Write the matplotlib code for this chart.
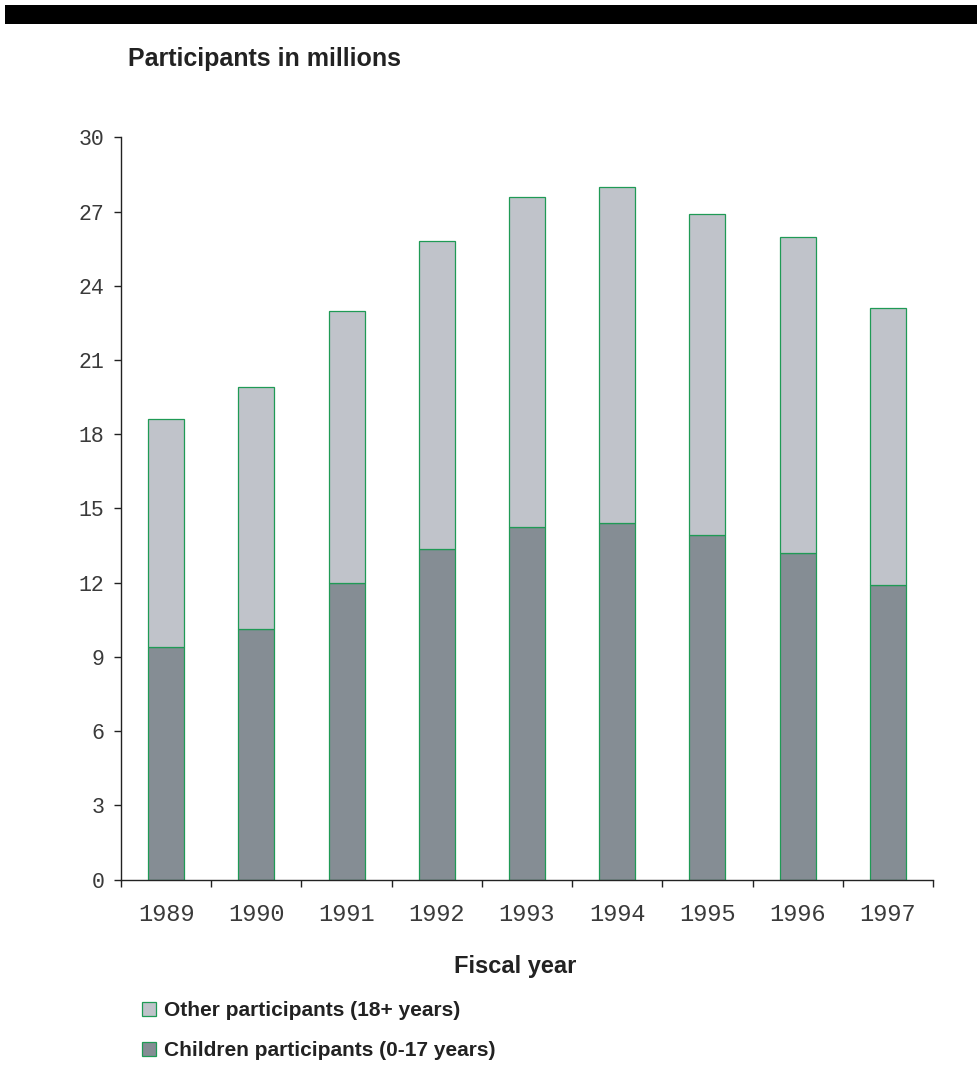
import matplotlib
matplotlib.use("Agg")
import matplotlib.pyplot as plt
from matplotlib.patches import Rectangle, Patch
import numpy as np

# WIC participation by fiscal year (millions)
years = ["1989", "1990", "1991", "1992", "1993", "1994", "1995", "1996", "1997"]
children = [9.41, 10.13, 11.99, 13.34, 14.23, 14.40, 13.92, 13.19, 11.90]
totals = [18.60, 19.90, 22.97, 25.80, 27.57, 27.98, 26.91, 25.95, 23.12]
others = [t - c for t, c in zip(totals, children)]
yticks = [0, 3, 6, 9, 12, 15, 18, 21, 24, 27, 30]

label_other = "Other participants (18+ years)"
label_children = "Children participants (0-17 years)"

c_other = "#c0c3ca"
c_child = "#858d94"
c_edge = "#1f9a55"
text_col = "#222222"

W, H = 977, 1068
fig = plt.figure(figsize=(W / 100, H / 100), dpi=100)

# black header band
fig.patches.append(Rectangle((5 / W, 1 - 24 / H), 1 - 5 / W, 19 / H,
                             transform=fig.transFigure, facecolor="black",
                             edgecolor="none", zorder=0))

ax = fig.add_axes([121 / W, 1 - 879.5 / H, (933 - 121) / W, (879.5 - 137.3) / H])

x = np.arange(len(years))
bw = 0.4
ax.bar(x, children, width=bw, color=c_child, edgecolor=c_edge, linewidth=0.9, zorder=2)
ax.bar(x, others, width=bw, bottom=children, color=c_other, edgecolor=c_edge,
       linewidth=0.9, zorder=2)

ax.set_xlim(-0.5, len(years) - 0.5)
ax.set_ylim(0, 30)

for s in ("top", "right"):
    ax.spines[s].set_visible(False)
for s in ("left", "bottom"):
    ax.spines[s].set_color("#222222")
    ax.spines[s].set_linewidth(1.0)

ax.set_yticks(yticks)
ax.set_yticklabels([str(v) for v in yticks])
ax.tick_params(axis="y", direction="out", length=5, width=1.0, color="#222222",
               pad=7, labelsize=15.5, labelcolor="#3a3a3a")
for t in ax.get_yticklabels():
    t.set_fontfamily("Liberation Mono")

# year labels at bar centres, tick marks at category boundaries
ax.set_xticks(x)
ax.set_xticklabels(years)
ax.set_xticks(np.arange(len(years) + 1) - 0.5, minor=True)
ax.tick_params(axis="x", which="major", length=0, pad=17, labelsize=17,
               labelcolor="#3a3a3a")
ax.tick_params(axis="x", which="minor", direction="out", length=5, width=1.0,
               color="#222222")
for t in ax.get_xticklabels():
    t.set_fontfamily("Liberation Mono")

fig.text(128 / W, 1 - 59 / H, "Participants in millions", fontsize=18,
         fontweight="bold", family="Liberation Sans", color=text_col,
         ha="left", va="center")
fig.text(515 / W, 1 - 966 / H, "Fiscal year", fontsize=17, fontweight="bold",
         family="Liberation Sans", color=text_col, ha="center", va="center")

handles = [Patch(facecolor=c_other, edgecolor=c_edge, linewidth=0.9, label=label_other),
           Patch(facecolor=c_child, edgecolor=c_edge, linewidth=0.9, label=label_children)]
leg = fig.legend(handles=handles, loc="upper left",
                 bbox_to_anchor=(138 / W, 1 - 997 / H), frameon=False,
                 prop={"family": "Liberation Sans", "weight": "bold", "size": 15},
                 handlelength=0.67, handleheight=0.67, handletextpad=0.38,
                 labelspacing=1.0, borderaxespad=0, borderpad=0.2)
for t in leg.get_texts():
    t.set_color(text_col)

fig.savefig("out.png", dpi=100, facecolor="white")
